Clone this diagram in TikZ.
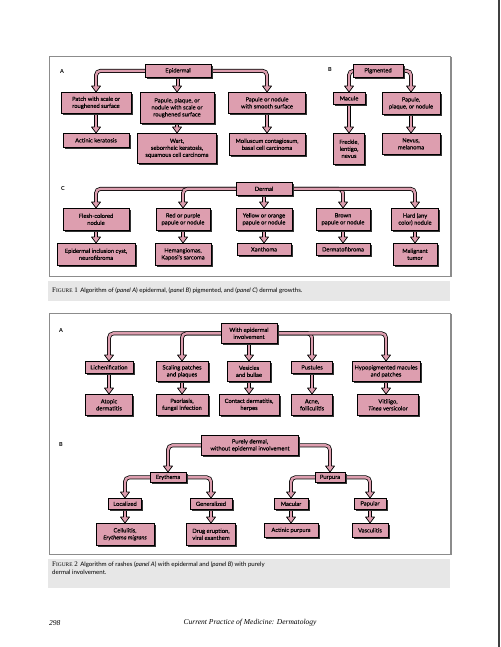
\documentclass[tikz,border=0pt]{standalone}
\usepackage{fontspec}
\setmainfont{Lato}
\newfontfamily\boxfont{Lato}[FakeBold=0.2]
\newfontfamily\serifrm{Liberation Serif}
\usetikzlibrary{shadows,backgrounds}
\definecolor{pinkbox}{RGB}{221,158,175}
\definecolor{capgray}{RGB}{231,231,231}
\definecolor{framegray}{RGB}{140,140,140}
\newcommand\tipat[1]{%
  \fill[pinkbox] (#1) -- ++(-4.5,-6) -- ++(9,0) -- cycle;
  \draw[black, line width=0.7pt, line join=round] (#1) ++(-1.3,-6) -- ++(-3.2,0) -- (#1) -- ++(4.5,-6) -- ++(-3.2,0);}
\newcommand\figlab[1]{{\serifrm\fontsize{7}{7}\selectfont F{\fontsize{5.4}{6}\selectfont IGURE} #1}}
\begin{document}
\begin{tikzpicture}[x=1pt,y=-1pt,
  box/.style={draw=black, line width=0.65pt, fill=pinkbox, align=center, anchor=north, inner sep=1pt,
    font=\boxfont\fontsize{5.8}{7}\selectfont,
    drop shadow={shadow xshift=1.5pt, shadow yshift=-1.5pt, fill=black!80, opacity=1}},
  pipe/.style={draw=black, line width=0.75pt, double=pinkbox, double distance=2.4pt, rounded corners=4.5pt, shorten >=3.5pt},
  lbl/.style={font=\fontsize{5.5}{6}\selectfont\bfseries, anchor=west, inner sep=0pt},
  captxt/.style={font=\fontsize{6.1}{7.6}\selectfont, anchor=west, inner sep=0pt, align=left},
]
\useasboundingbox (0,0) rectangle (500,647);
\fill[black!75] (497.6,0) rectangle (500,647);
% frames
\draw[framegray, line width=0.8pt] (49,56) rectangle (450,276);
\draw[black!45, line width=1.2pt] (451,57) -- (451,277);
\fill[capgray] (48,281) rectangle (450,301);
\draw[framegray, line width=0.8pt] (49,313) rectangle (450,554);
\draw[black!45, line width=1.2pt] (451,314) -- (451,555);
\fill[capgray] (48,559) rectangle (450,588);

% ===== Figure 1 A
\node[lbl] (la) at (60,72) {A};
\node[box, minimum width=66, minimum height=13] (epi) at (178,64) {Epidermal};
\node[box, minimum width=70, minimum height=21] (patch) at (96,92) {Patch with scale or\\roughened surface};
\node[box, minimum width=74, minimum height=31] (ppn) at (177,92) {Papule, plaque, or\\nodule with scale or\\roughened surface};
\node[box, minimum width=77, minimum height=21] (pns) at (267,92) {Papule or nodule\\with smooth surface};
\node[box, minimum width=66, minimum height=14] (ak) at (96,133) {Actinic keratosis};
\node[box, minimum width=79, minimum height=30] (wart) at (177,133) {Wart,\\seborrheic keratosis,\\squamous cell carcinoma};
\node[box, minimum width=76, minimum height=22] (moll) at (267,133) {Molluscum contagiosum,\\basal cell carcinoma};

% ===== Figure 1 B
\node[lbl] (lb) at (328,70) {B};
\node[box, minimum width=50, minimum height=13] (pig) at (378,64) {Pigmented};
\node[box, minimum width=32, minimum height=12] (mac) at (349,92) {Macule};
\node[box, minimum width=58, minimum height=22] (ppn2) at (411,92) {Papule,\\plaque, or nodule};
\node[box, minimum width=31, minimum height=31] (frk) at (349,133) {Freckle,\\lentigo,\\nevus};
\node[box, minimum width=58, minimum height=21] (nev) at (411,133) {Nevus,\\melanoma};

% ===== Figure 1 C
\node[lbl] (lc) at (61,189) {C};
\node[box, minimum width=56, minimum height=13] (derm) at (264,182) {Dermal};
\node[box, minimum width=66, minimum height=22] (flesh) at (96,208) {Flesh-colored\\nodule};
\node[box, minimum width=54, minimum height=22] (red) at (183,208) {Red or purple\\papule or nodule};
\node[box, minimum width=56, minimum height=22] (yel) at (264,208) {Yellow or orange\\papule or nodule};
\node[box, minimum width=54, minimum height=22] (brn) at (343,208) {Brown\\papule or nodule};
\node[box, minimum width=47, minimum height=22] (hard) at (415,208) {Hard (any\\color) nodule};
\node[box, minimum width=78, minimum height=22] (epc) at (96,243) {Epidermal inclusion cyst,\\neurofibroma};
\node[box, minimum width=56, minimum height=22] (hem) at (183,243) {Hemangiomas,\\Kaposi’s sarcoma};
\node[box, minimum width=54, minimum height=12] (xan) at (264,243) {Xanthoma};
\node[box, minimum width=54, minimum height=12] (dfb) at (343,243) {Dermatofibroma};
\node[box, minimum width=44, minimum height=22] (mal) at (415,243) {Malignant\\tumor};

\node[captxt] (cap1) at (52,291) {\figlab{1}\hspace{0.4em}Algorithm of (\textit{panel A}) epidermal, (\textit{panel B}) pigmented, and (\textit{panel C}) dermal growths.};

% ===== Figure 2 A
\node[lbl] (la2) at (59,331) {A};
\node[box, minimum width=56, minimum height=20] (wei) at (249,323) {With epidermal\\involvement};
\node[box, minimum width=48, minimum height=12] (lich) at (109,361) {Lichenification};
\node[box, minimum width=52, minimum height=20] (scal) at (182,361) {Scaling patches\\and plaques};
\node[box, minimum width=43, minimum height=20] (ves) at (249,361) {Vesicles\\and bullae};
\node[box, minimum width=41, minimum height=12] (pus) at (312,361) {Pustules};
\node[box, minimum width=68, minimum height=20] (hyp) at (386,361) {Hypopigmented macules\\and patches};
\node[box, minimum width=47, minimum height=21] (atop) at (109,394) {Atopic\\dermatitis};
\node[box, minimum width=52, minimum height=21] (pso) at (182,394) {Psoriasis,\\fungal infection};
\node[box, minimum width=60, minimum height=21] (cont) at (249,394) {Contact dermatitis,\\herpes};
\node[box, minimum width=41, minimum height=21] (acne) at (312,394) {Acne,\\folliculitis};
\node[box, minimum width=61, minimum height=21] (vit) at (388,394) {Vitiligo,\\\textit{Tinea} versicolor};

% ===== Figure 2 B
\node[lbl] (lb2) at (59,445) {B};
\node[box, minimum width=97, minimum height=20] (pur) at (250,435) {Purely dermal,\\without epidermal involvement};
\node[box, minimum width=36, minimum height=10] (ery) at (168,472) {Erythema};
\node[box, minimum width=30, minimum height=10] (purp) at (330,472) {Purpura};
\node[box, minimum width=33, minimum height=11] (loc) at (125,498) {Localized};
\node[box, minimum width=42, minimum height=11] (gen) at (211,498) {Generalized};
\node[box, minimum width=34, minimum height=11] (macu) at (291,498) {Macular};
\node[box, minimum width=32, minimum height=11] (papu) at (370,498) {Papular};
\node[box, minimum width=58, minimum height=22] (cell) at (125,523) {Cellulitis,\\\textit{Erythema migrans}};
\node[box, minimum width=49, minimum height=22] (drug) at (211,523) {Drug eruption,\\viral exanthem};
\node[box, minimum width=54, minimum height=14] (act) at (291,523) {Actinic purpura};
\node[box, minimum width=36, minimum height=14] (vas) at (370,523) {Vasculitis};

\node[captxt, anchor=north west] (cap2) at (52,562) {\figlab{2}\hspace{0.4em}Algorithm of rashes (\textit{panel A}) with epidermal and (\textit{panel B}) with purely\\dermal involvement.};

% footer
\node[font=\serifrm\itshape\fontsize{7.5}{8}\selectfont, anchor=west, inner sep=0pt] (pg) at (49,623) {298};
\node[font=\serifrm\itshape\fontsize{7.5}{8}\selectfont, inner sep=0pt] (ttl) at (250,623) {Current Practice of Medicine: Dermatology};

% ===== pipes
\begin{scope}[on background layer]
\draw[pipe] (epi.center) -| (patch.north);
\draw[pipe] (epi.center) -- (epi.center |- ppn.north);
\draw[pipe] (epi.center) -| (pns.north);
\draw[pipe] (patch.center) -- (patch.center |- ak.north);
\draw[pipe] (ppn.center) -- (ppn.center |- wart.north);
\draw[pipe] (pns.center) -- (pns.center |- moll.north);
\draw[pipe] (pig.center) -| (mac.north);
\draw[pipe] (pig.center) -| (ppn2.north);
\draw[pipe] (mac.center) -- (mac.center |- frk.north);
\draw[pipe] (ppn2.center) -- (ppn2.center |- nev.north);
\draw[pipe] (derm.center) -| (flesh.north);
\draw[pipe] (derm.center) -| (red.north);
\draw[pipe] (derm.center) -- (derm.center |- yel.north);
\draw[pipe] (derm.center) -| (brn.north);
\draw[pipe] (derm.center) -| (hard.north);
\foreach \a/\b in {flesh/epc, red/hem, yel/xan, brn/dfb, hard/mal}
  \draw[pipe] (\a.center) -- (\a.center |- \b.north);
\draw[pipe] (wei.center) -| (lich.north);
\draw[pipe] (wei.center) -| (scal.north);
\draw[pipe] (wei.center) -- (wei.center |- ves.north);
\draw[pipe] (wei.center) -| (pus.north);
\draw[pipe] (wei.center) -| (hyp.north);
\foreach \a/\b in {lich/atop, scal/pso, ves/cont, pus/acne, hyp/vit}
  \draw[pipe] (\a.center) -- (\a.center |- \b.north);
\draw[pipe] (pur.center) -| (ery.north);
\draw[pipe] (pur.center) -| (purp.north);
\draw[pipe] (ery.center) -| (loc.north);
\draw[pipe] (ery.center) -| (gen.north);
\draw[pipe] (purp.center) -| (macu.north);
\draw[pipe] (purp.center) -| (papu.north);
\foreach \a/\b in {loc/cell, gen/drug, macu/act, papu/vas}
  \draw[pipe] (\a.center) -- (\a.center |- \b.north);
\end{scope}
% tips
\foreach \n in {patch,ppn,pns,mac,ppn2,flesh,red,yel,brn,hard,lich,scal,ves,pus,hyp,ery,purp,loc,gen,macu,papu}
  \tipat{\n.north};
\tipat{patch.center |- ak.north}
\tipat{ppn.center |- wart.north}
\tipat{pns.center |- moll.north}
\tipat{mac.center |- frk.north}
\tipat{ppn2.center |- nev.north}
\foreach \a/\b in {flesh/epc, red/hem, yel/xan, brn/dfb, hard/mal, lich/atop, scal/pso, ves/cont, pus/acne, hyp/vit, loc/cell, gen/drug, macu/act, papu/vas}
  \tipat{\a.center |- \b.north};
\end{tikzpicture}
\end{document}
